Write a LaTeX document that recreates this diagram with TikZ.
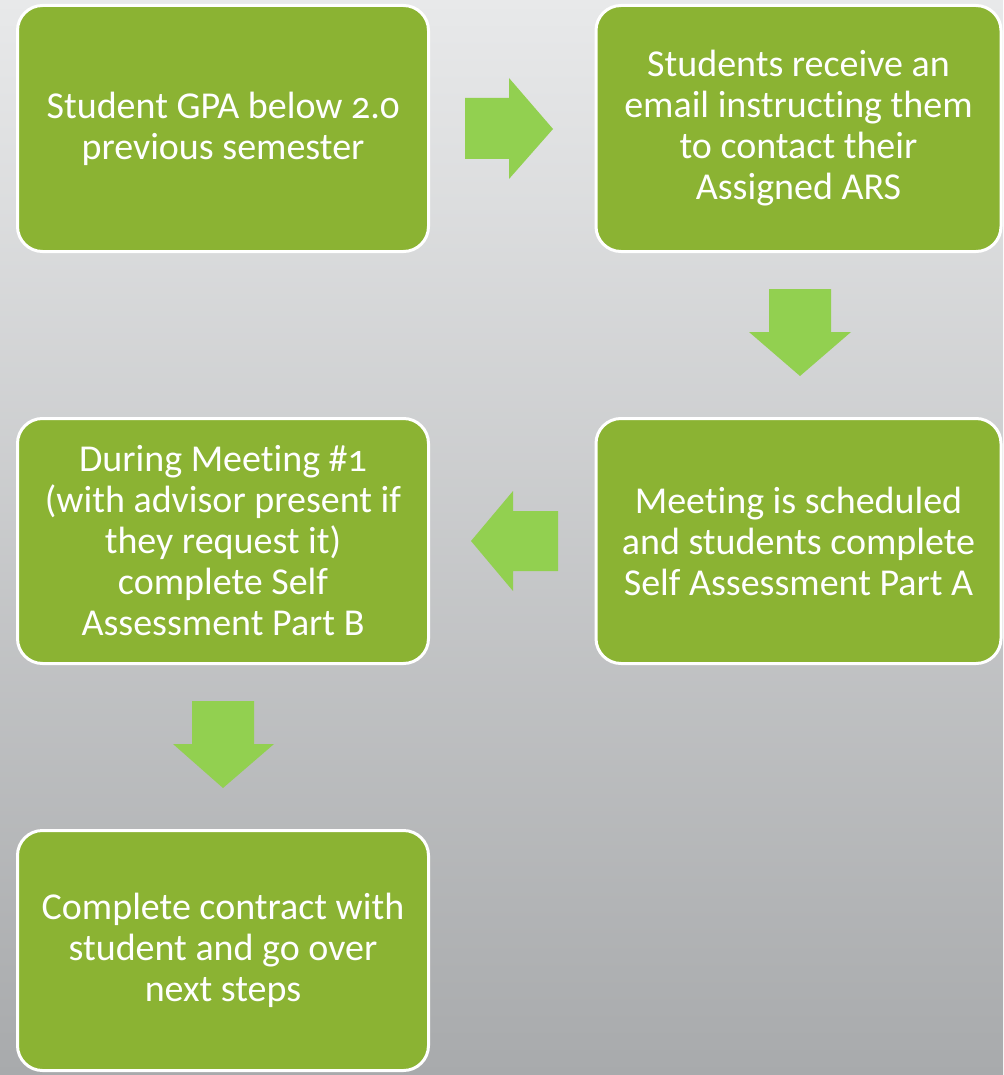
\documentclass[tikz,border=0pt]{standalone}
\usepackage{fontspec}
\setmainfont{Carlito}[Numbers=OldStyle, Ligatures={NoCommon}]
\definecolor{boxgreen}{HTML}{8BB333}
\definecolor{arrowgreen}{HTML}{92D050}
\definecolor{bgtop}{HTML}{E8E9EA}
\definecolor{bgbot}{HTML}{A8AAAC}
\begin{document}
\begin{tikzpicture}[x=1pt,y=-1pt,
  stepbox/.style={draw=white, line width=3pt, fill=boxgreen, rounded corners=25pt,
    text=white, align=center, inner sep=0pt,
    font={\fontsize{38}{41}\selectfont}},
  blockarrow/.style={fill=arrowgreen, draw=none}]
\shade[top color=bgtop, bottom color=bgbot] (0,0) rectangle (1003,1075);
\useasboundingbox (0,0) rectangle (1003,1075);

\node[stepbox, minimum width=411pt, minimum height=246pt] (b1) at (223,128.5)
  {Student GPA below 2.0\\previous semester};
\node[stepbox, minimum width=405pt, minimum height=246pt] (b2) at (798.5,128.5)
  {Students receive an\\email instructing them\\to contact their\\Assigned ARS};
\node[stepbox, minimum width=405pt, minimum height=245pt] (b3) at (798.5,541)
  {Meeting is scheduled\\and students complete\\Self Assessment Part A};
\node[stepbox, minimum width=411pt, minimum height=245pt] (b4) at (223,541)
  {During Meeting \#1\\(with advisor present if\\they request it)\\complete Self\\Assessment Part B};
\node[stepbox, minimum width=411pt, minimum height=240pt] (b5) at (223,950.5)
  {Complete contract with\\student and go over\\next steps};

% right arrow b1 -> b2
\fill[blockarrow] (465,98) -- (509,98) -- (509,78) -- (553,129) -- (509,179) -- (509,159) -- (465,159) -- cycle;
% down arrow b2 -> b3
\fill[blockarrow] (769,289) -- (831,289) -- (831,332) -- (851,332) -- (800,376) -- (749,332) -- (769,332) -- cycle;
% left arrow b3 -> b4
\fill[blockarrow] (558,511) -- (513,511) -- (513,491) -- (471,541) -- (513,591) -- (513,571) -- (558,571) -- cycle;
% down arrow b4 -> b5
\fill[blockarrow] (192,701) -- (254,701) -- (254,744) -- (274,744) -- (223,788) -- (173,744) -- (192,744) -- cycle;
\end{tikzpicture}
\end{document}
